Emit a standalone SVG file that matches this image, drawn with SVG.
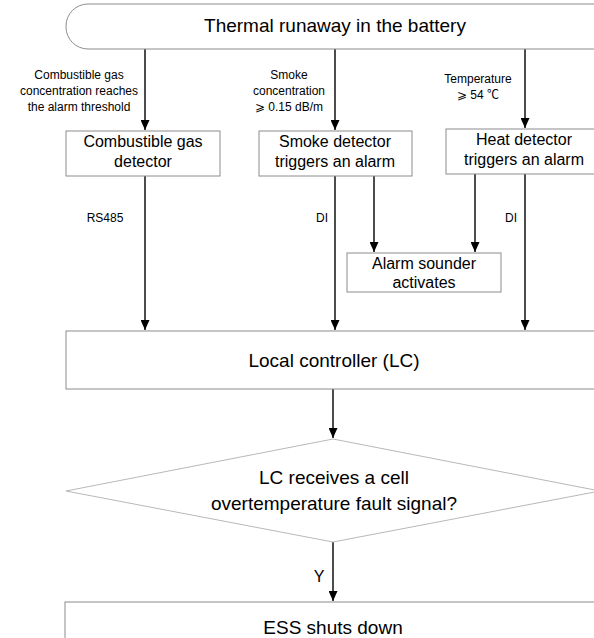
<svg xmlns="http://www.w3.org/2000/svg" width="594" height="638" viewBox="0 0 594 638">
<style>
text{font-family:"Liberation Sans",Arial,"Noto Sans CJK SC",sans-serif;fill:#000;text-anchor:middle}
.box{fill:#fff;stroke:#8c8c8c;stroke-width:1}
.dia{fill:#fff;stroke:#b8b8b8;stroke-width:1}
.t19{font-size:19px}
.t16{font-size:16px}
.t12{font-size:12px}
.c{stroke:#000;stroke-width:1.4;fill:none;marker-end:url(#ah)}
</style>
<defs>
<marker id="ah" viewBox="0 0 10 10" refX="10" refY="5" markerWidth="10" markerHeight="9" markerUnits="userSpaceOnUse" orient="auto" preserveAspectRatio="none">
<path d="M0,0 L10,5 L0,10 Z" fill="#000"/>
</marker>
</defs>
<rect width="594" height="638" fill="#fff"/>
<g id="connectors">
<path class="c" d="M145,49 V130"/>
<path class="c" d="M335,49 V130"/>
<path class="c" d="M525,49 V128"/>
<path class="c" d="M145,176 V330"/>
<path class="c" d="M335,176 V330"/>
<path class="c" d="M374,176 V252"/>
<path class="c" d="M475,174 V252"/>
<path class="c" d="M525,174 V330"/>
<path class="c" d="M333,389 V438"/>
<path class="c" d="M333,542 V601"/>
<text class="t12" x="79" y="79">Combustible gas</text>
<text class="t12" x="79" y="95">concentration reaches</text>
<text class="t12" x="79" y="111">the alarm threshold</text>
<text class="t12" x="289" y="79">Smoke</text>
<text class="t12" x="289" y="95">concentration</text>
<text class="t12" x="289" y="111">⩾ 0.15 dB/m</text>
<text class="t12" x="478" y="83">Temperature</text>
<text class="t12" x="478" y="99">⩾ 54 ℃</text>
<text class="t12" x="105" y="222">RS485</text>
<text class="t12" x="322" y="222">DI</text>
<text class="t12" x="511" y="222">DI</text>
<text class="t16" x="319" y="582">Y</text>
</g>
<g id="n-thermal">
<rect class="box" x="66" y="4" width="560" height="45" rx="22" ry="22"/>
<text class="t19" x="335" y="32">Thermal runaway in the battery</text>
</g>
<g id="n-gas">
<rect class="box" x="66" y="131" width="154" height="45"/>
<text class="t16" x="143" y="147">Combustible gas</text>
<text class="t16" x="143" y="167">detector</text>
</g>
<g id="n-smoke">
<rect class="box" x="259" y="131" width="153" height="45"/>
<text class="t16" x="335" y="147">Smoke detector</text>
<text class="t16" x="335" y="167">triggers an alarm</text>
</g>
<g id="n-heat">
<rect class="box" x="446" y="129" width="160" height="45"/>
<text class="t16" x="524" y="145">Heat detector</text>
<text class="t16" x="524" y="165">triggers an alarm</text>
</g>
<g id="n-sounder">
<rect class="box" x="347" y="253" width="154" height="39"/>
<text class="t16" x="424" y="269">Alarm sounder</text>
<text class="t16" x="424" y="288">activates</text>
</g>
<g id="n-lc">
<rect class="box" x="66" y="331" width="540" height="58"/>
<text class="t19" x="334" y="367">Local controller (LC)</text>
</g>
<g id="n-decision">
<polygon class="dia" points="333,439 600,491 333,542 66,491"/>
<text class="t19" x="334" y="484">LC receives a cell</text>
<text class="t19" x="334" y="510">overtemperature fault signal?</text>
</g>
<g id="n-ess">
<rect class="box" x="65" y="602" width="541" height="60"/>
<text class="t19" x="333" y="634">ESS shuts down</text>
</g>
</svg>
